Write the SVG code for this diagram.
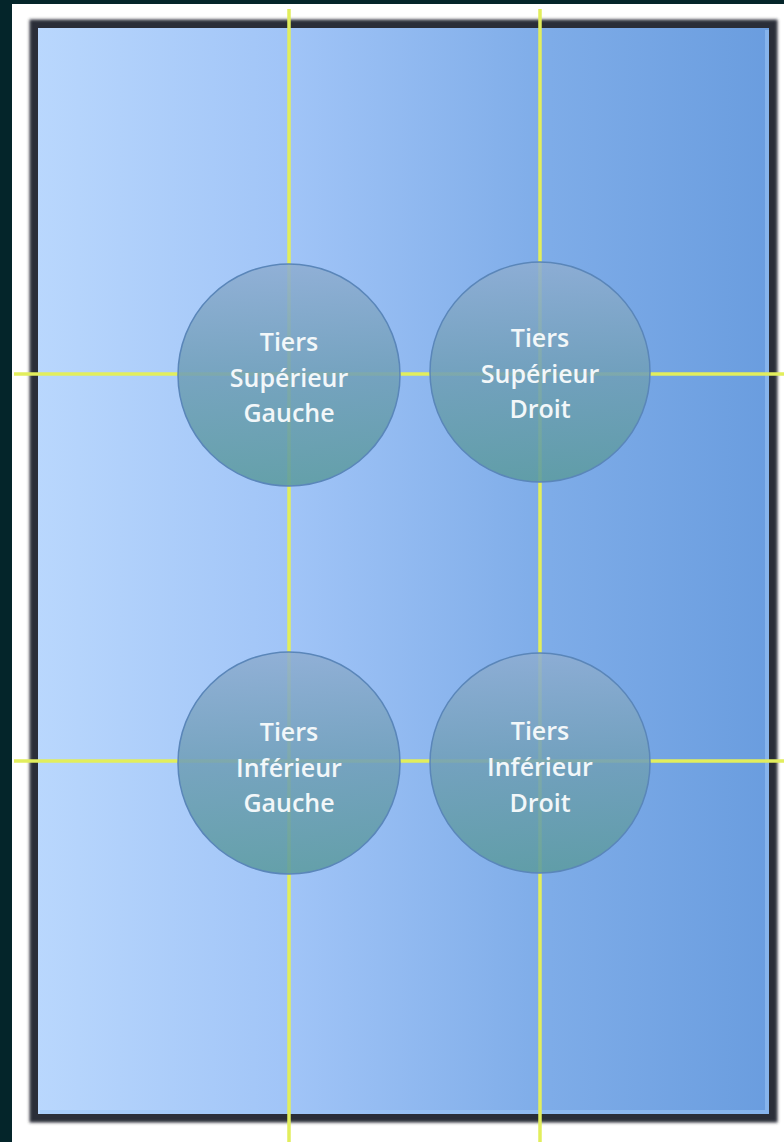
<svg xmlns="http://www.w3.org/2000/svg" width="784" height="1142" viewBox="0 0 784 1142">
  <defs>
    <linearGradient id="bg" x1="0" y1="0" x2="1" y2="0">
      <stop offset="0" stop-color="#b9d7fd"/>
      <stop offset="0.35" stop-color="#a0c4f7"/>
      <stop offset="0.7" stop-color="#7eace8"/>
      <stop offset="1" stop-color="#6a9ddf"/>
    </linearGradient>
    <linearGradient id="cg" x1="0" y1="0" x2="0" y2="1">
      <stop offset="0" stop-color="#8eadd2"/>
      <stop offset="0.5" stop-color="#709fb8"/>
      <stop offset="1" stop-color="#5c9b9f"/>
    </linearGradient>
    <filter id="blur" x="-5%" y="-5%" width="110%" height="110%">
      <feGaussianBlur stdDeviation="1.5"/>
    </filter>
    <style>
      .grid { stroke: #e2ee5c; stroke-width: 3.5; fill: none; }
      .node circle { fill: url(#cg); fill-opacity: 0.88; stroke: #5a86b9; stroke-width: 1.5; }
      .node text { fill: #f2f7f9; font-family: "Open Sans", "Noto Sans", sans-serif; font-size: 25px; font-weight: 600; text-anchor: middle; }
    </style>
  </defs>
  <rect x="0" y="0" width="784" height="1142" fill="#04252a"/>
  <rect x="12" y="4" width="772" height="1138" fill="#ffffff"/>
  <g id="frame">
    <rect x="34" y="24" width="739" height="1094" fill="#2b2f37" filter="url(#blur)" stroke="#2b2f37" stroke-width="9"/>
    <rect x="38" y="28" width="731" height="1086" fill="url(#bg)"/>
    <path d="M40 1112 H767 V30" fill="none" stroke="#9cc6f6" stroke-opacity="0.55" stroke-width="4"/>
  </g>
  <g id="connectors">
    <line class="grid" x1="289" y1="9" x2="289" y2="1142"/>
    <line class="grid" x1="540" y1="9" x2="540" y2="1142"/>
    <line class="grid" x1="14" y1="374" x2="784" y2="374"/>
    <line class="grid" x1="14" y1="761" x2="784" y2="761"/>
  </g>
  <g id="node-sup-gauche" class="node">
    <circle cx="289" cy="375" r="111"/>
    <text x="289" y="351">Tiers</text>
    <text x="289" y="387">Supérieur</text>
    <text x="289" y="422">Gauche</text>
  </g>
  <g id="node-sup-droit" class="node">
    <circle cx="540" cy="372" r="110"/>
    <text x="540" y="347">Tiers</text>
    <text x="540" y="383">Supérieur</text>
    <text x="540" y="418">Droit</text>
  </g>
  <g id="node-inf-gauche" class="node">
    <circle cx="289" cy="763" r="111"/>
    <text x="289" y="741">Tiers</text>
    <text x="289" y="777">Inférieur</text>
    <text x="289" y="812">Gauche</text>
  </g>
  <g id="node-inf-droit" class="node">
    <circle cx="540" cy="763" r="110"/>
    <text x="540" y="740">Tiers</text>
    <text x="540" y="776">Inférieur</text>
    <text x="540" y="812">Droit</text>
  </g>
</svg>
